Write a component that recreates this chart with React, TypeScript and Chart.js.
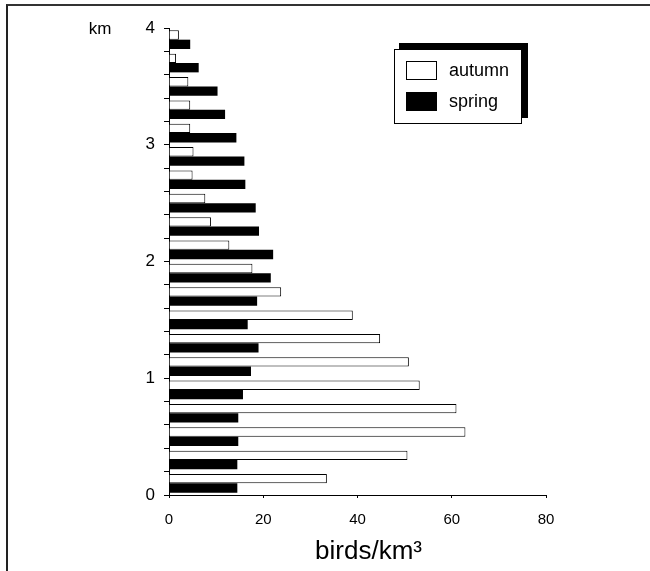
import React, { useEffect, useRef } from "react";
import { Chart, registerables } from "chart.js";

Chart.register(...registerables);

// Altitude bins (km), listed from the ground upwards
const altitudeBins = [
  "0.0-0.2", "0.2-0.4", "0.4-0.6", "0.6-0.8", "0.8-1.0",
  "1.0-1.2", "1.2-1.4", "1.4-1.6", "1.6-1.8", "1.8-2.0",
  "2.0-2.2", "2.2-2.4", "2.4-2.6", "2.6-2.8", "2.8-3.0",
  "3.0-3.2", "3.2-3.4", "3.4-3.6", "3.6-3.8", "3.8-4.0",
];

// birds/km³ per bin
const autumn = [
  33.5, 50.6, 62.9, 61.0, 53.2,
  50.9, 44.8, 39.0, 23.8, 17.7,
  12.8, 8.9, 7.7, 5.0, 5.2,
  4.5, 4.5, 4.1, 1.5, 2.1,
];
const spring = [
  14.5, 14.5, 14.7, 14.7, 15.7,
  17.4, 19.0, 16.7, 18.7, 21.6,
  22.1, 19.1, 18.4, 16.2, 16.0,
  14.3, 11.9, 10.3, 6.3, 4.5,
];

const seriesNames = ["autumn", "spring"];
const xTickValues = [0, 20, 40, 60, 80];
const kmLabels = [0, 1, 2, 3, 4];
const xAxisTitle = "birds/km³";
const yAxisUnit = "km";

const FONT = "'Liberation Sans', Arial, Helvetica, sans-serif";

export default function App() {
  const ref = useRef<HTMLCanvasElement>(null);

  useEffect(() => {
    if (!ref.current) return;

    const decorPlugin = {
      id: "decor",
      afterDraw(chart: any) {
        const { ctx, chartArea, scales } = chart;
        ctx.save();
        // unit label "km" beside the top tick
        ctx.fillStyle = "#000";
        ctx.font = `17px ${FONT}`;
        ctx.textAlign = "center";
        ctx.textBaseline = "middle";
        ctx.fillText(yAxisUnit, 100, scales.yt.getPixelForValue(4) + 1);
        // x axis title
        ctx.font = `26px ${FONT}`;
        ctx.textBaseline = "alphabetic";
        ctx.fillText(xAxisTitle, (chartArea.left + chartArea.right) / 2 + 11, 559);

        // legend box with drop shadow
        const bx = chartArea.right - 152;
        const by = chartArea.top + 21;
        const bw = 128;
        const bh = 75;
        ctx.fillStyle = "#000";
        ctx.fillRect(bx + 5, by - 6, bw + 1, bh);
        ctx.fillStyle = "#fff";
        ctx.fillRect(bx, by, bw, bh);
        ctx.strokeStyle = "#000";
        ctx.lineWidth = 1;
        ctx.strokeRect(bx + 0.5, by + 0.5, bw - 1, bh - 1);
        chart.data.datasets.forEach((ds: any, i: number) => {
          const sy = by + 12 + i * 31;
          ctx.fillStyle = ds.backgroundColor;
          ctx.fillRect(bx + 12, sy, 31, 19);
          ctx.strokeStyle = "#000";
          ctx.strokeRect(bx + 12.5, sy + 0.5, 30, 18);
          ctx.fillStyle = "#000";
          ctx.font = `18px ${FONT}`;
          ctx.textAlign = "left";
          ctx.textBaseline = "middle";
          ctx.fillText(ds.label, bx + 55, sy + 10);
        });
        ctx.restore();
      },
    };

    const chart = new Chart(ref.current, {
      type: "bar",
      data: {
        labels: altitudeBins,
        datasets: [
          {
            label: seriesNames[0],
            data: autumn,
            backgroundColor: "#ffffff",
            borderColor: "#000000",
            borderWidth: 1,
            borderSkipped: "start",
            categoryPercentage: 0.8,
            barPercentage: 1.0,
          },
          {
            label: seriesNames[1],
            data: spring,
            backgroundColor: "#000000",
            borderColor: "#000000",
            borderWidth: 0,
            categoryPercentage: 0.8,
            barPercentage: 1.0,
          },
        ],
      },
      options: {
        indexAxis: "y",
        responsive: false,
        animation: false,
        devicePixelRatio: 1,
        layout: { padding: { left: 0, right: 104, top: 28, bottom: 0 } },
        plugins: {
          legend: { display: false },
          tooltip: { enabled: false },
          title: { display: false },
        },
        scales: {
          x: {
            type: "linear",
            min: 0,
            max: 80,
            offset: false,
            afterBuildTicks: (s: any) => {
              s.ticks = xTickValues.map((v) => ({ value: v }));
            },
            afterFit: (s: any) => {
              s.height = 76;
            },
            grid: {
              drawOnChartArea: false,
              drawTicks: true,
              tickLength: 3,
              tickColor: "#000",
              offset: false,
            },
            border: { display: true, color: "#000", width: 1 },
            ticks: {
              color: "#000",
              font: { family: FONT, size: 15 },
              padding: 13,
              maxRotation: 0,
              autoSkip: false,
            },
          },
          y: {
            type: "category",
            reverse: true,
            offset: true,
            display: false,
          },
          yt: {
            type: "linear",
            axis: "y",
            position: "left",
            min: 0,
            max: 4,
            offset: false,
            afterBuildTicks: (s: any) => {
              const t: any[] = [];
              for (let i = 0; i <= altitudeBins.length; i++) t.push({ value: (i * 4) / altitudeBins.length });
              s.ticks = t;
            },
            afterFit: (s: any) => {
              s.width = 169;
            },
            grid: {
              drawOnChartArea: false,
              drawTicks: true,
              tickLength: 5,
              tickColor: "#000",
              offset: false,
            },
            border: { display: true, color: "#000", width: 1 },
            ticks: {
              color: "#000",
              font: { family: FONT, size: 17 },
              padding: 9,
              autoSkip: false,
              callback: (v: any) => {
                const n = Number(v);
                const r = Math.round(n);
                return Math.abs(n - r) < 1e-6 && kmLabels.includes(r) ? String(r) : "";
              },
            },
          },
        },
      },
      plugins: [decorPlugin],
    } as any);

    return () => chart.destroy();
  }, []);

  return (
    <div
      style={{
        position: "fixed",
        left: 0,
        top: 0,
        width: 650,
        height: 571,
        background: "#fff",
        overflow: "hidden",
      }}
    >
      <div
        style={{
          position: "absolute",
          left: 6,
          top: 4,
          width: 700,
          height: 700,
          borderTop: "2px solid #333",
          borderLeft: "2px solid #222",
        }}
      />
      <canvas
        ref={ref}
        width={650}
        height={571}
        style={{ position: "absolute", left: 0, top: 0 }}
      />
    </div>
  );
}
